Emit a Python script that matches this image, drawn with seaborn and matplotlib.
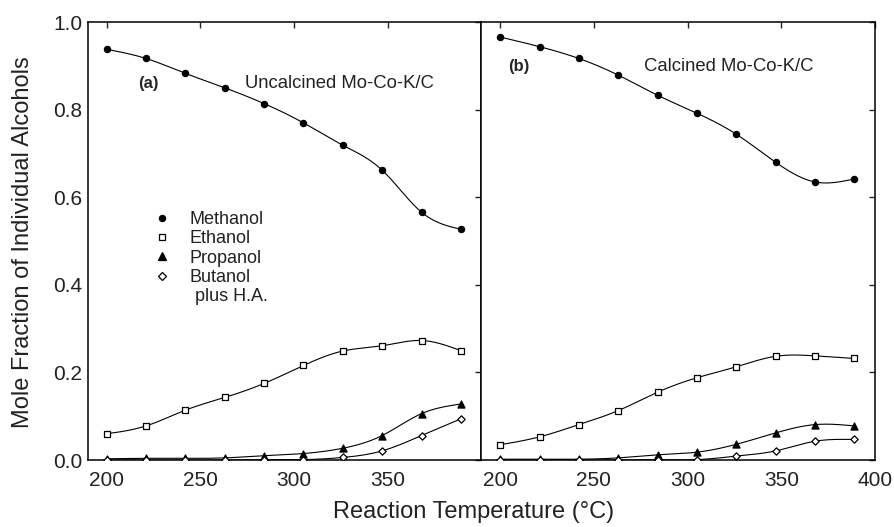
import numpy as np
import pandas as pd
import matplotlib
matplotlib.use("Agg")
import matplotlib.pyplot as plt
from matplotlib.lines import Line2D
import seaborn as sns

sns.set_style("white")
plt.rcParams['font.family'] = ['Liberation Sans', 'DejaVu Sans']

# ---------------- data ----------------
temps = [200, 221, 242, 263, 284, 305, 326, 347, 368, 389]

a_methanol = [0.938, 0.917, 0.883, 0.850, 0.814, 0.770, 0.719, 0.662, 0.566, 0.527]
a_ethanol = [0.060, 0.078, 0.114, 0.143, 0.175, 0.216, 0.249, 0.261, 0.273, 0.250]
a_propanol = [0.003, 0.004, 0.004, 0.005, 0.010, 0.015, 0.027, 0.056, 0.106, 0.128]
a_butanol = [0.000, 0.000, 0.000, 0.000, 0.001, 0.001, 0.006, 0.021, 0.056, 0.094]

b_methanol = [0.966, 0.944, 0.917, 0.879, 0.833, 0.792, 0.744, 0.680, 0.635, 0.642]
b_ethanol = [0.035, 0.053, 0.081, 0.113, 0.155, 0.188, 0.213, 0.237, 0.238, 0.232]
b_propanol = [0.002, 0.002, 0.002, 0.005, 0.012, 0.018, 0.036, 0.062, 0.081, 0.078]
b_butanol = [0.000, 0.000, 0.000, 0.000, 0.001, 0.001, 0.009, 0.021, 0.043, 0.047]

series_names = ["Methanol", "Ethanol", "Propanol", "Butanol"]
panel_labels = ["(a)", "(b)"]
panel_titles = ["Uncalcined Mo-Co-K/C", "Calcined Mo-Co-K/C"]
x_ticks_a = [200, 250, 300, 350]
x_ticks_b = [200, 250, 300, 350, 400]
y_ticks = [0.0, 0.2, 0.4, 0.6, 0.8, 1.0]

# marker styles: (marker, facecolor, size)
styles = {
    "Methanol": ("o", "black", 20),
    "Ethanol": ("s", "white", 18),
    "Propanol": ("^", "black", 26),
    "Butanol": ("D", "white", 14),
}


def natural_spline(x, y, n=300):
    x = np.asarray(x, float)
    y = np.asarray(y, float)
    k = len(x)
    h = np.diff(x)
    A = np.zeros((k, k))
    r = np.zeros(k)
    A[0, 0] = A[-1, -1] = 1.0
    for i in range(1, k - 1):
        A[i, i - 1] = h[i - 1]
        A[i, i] = 2 * (h[i - 1] + h[i])
        A[i, i + 1] = h[i]
        r[i] = 6 * ((y[i + 1] - y[i]) / h[i] - (y[i] - y[i - 1]) / h[i - 1])
    M = np.linalg.solve(A, r)
    xs = np.linspace(x[0], x[-1], n)
    idx = np.clip(np.searchsorted(x, xs) - 1, 0, k - 2)
    x0, x1 = x[idx], x[idx + 1]
    hh = x1 - x0
    t0 = x1 - xs
    t1 = xs - x0
    ys = (M[idx] * t0 ** 3 / (6 * hh) + M[idx + 1] * t1 ** 3 / (6 * hh)
          + (y[idx] / hh - M[idx] * hh / 6) * t0
          + (y[idx + 1] / hh - M[idx + 1] * hh / 6) * t1)
    return xs, ys


fig, axes = plt.subplots(1, 2, figsize=(8.94, 5.27), dpi=100, sharey=True)
fig.subplots_adjust(left=0.0984, right=0.9787, top=0.958, bottom=0.127, wspace=0)

panels = [
    [a_methanol, a_ethanol, a_propanol, a_butanol],
    [b_methanol, b_ethanol, b_propanol, b_butanol],
]

for ax, data in zip(axes, panels):
    for name, vals in zip(series_names, data):
        xs, ys = natural_spline(temps, vals)
        sns.lineplot(x=xs, y=ys, ax=ax, color="black", lw=0.8, sort=False,
                     estimator=None, legend=False)
    for name, vals in zip(series_names, data):
        m, fc, s = styles[name]
        sns.scatterplot(x=temps, y=vals, ax=ax, marker=m, s=s, facecolor=fc,
                        edgecolor="black", linewidth=0.9, zorder=5, legend=False)
    ax.set_xlim(190, 400)
    ax.set_ylim(0, 1.0)
    ax.set_yticks(y_ticks)
    ax.tick_params(direction="in", top=True, right=True, length=4, width=1,
                   labelsize=15, pad=8, labelcolor="#222222")
    for sp in ax.spines.values():
        sp.set_linewidth(1.1)
        sp.set_color("black")
    ax.set_xlabel("")
    ax.set_ylabel("")

axes[0].set_xticks(x_ticks_a)
axes[1].set_xticks(x_ticks_b)
axes[0].set_yticklabels([f"{v:.1f}" for v in y_ticks])
axes[0].tick_params(axis="y", pad=4)
axes[1].tick_params(axis="y", labelleft=False)

axes[0].text(222, 0.86, panel_labels[0], fontsize=12, fontweight="bold",
             ha="center", va="center")
axes[0].text(274, 0.86, panel_titles[0], fontsize=13.3, ha="left", va="center",
             color="#222222")
axes[1].text(210, 0.898, panel_labels[1], fontsize=12, fontweight="bold",
             ha="center", va="center")
axes[1].text(277, 0.898, panel_titles[1], fontsize=13.3, ha="left", va="center",
             color="#222222")

handles = []
for name in series_names:
    m, fc, s = styles[name]
    handles.append(Line2D([], [], linestyle="none", marker=m, markersize=np.sqrt(s),
                          markerfacecolor=fc, markeredgecolor="black", markeredgewidth=0.9))
handles.append(Line2D([], [], linestyle="none"))
labels = series_names + [" plus H.A."]
leg = axes[0].legend(handles, labels, loc="upper left", bbox_to_anchor=(0.165, 0.569),
                     frameon=False, fontsize=13, handlelength=1.0, handletextpad=1.05,
                     labelspacing=0.13, borderpad=0, borderaxespad=0)
for t in leg.get_texts():
    t.set_color("#222222")

fig.supxlabel("Reaction Temperature (°C)", fontsize=17, y=0.008, x=0.530,
              color="#222222")
fig.supylabel("Mole Fraction of Individual Alcohols", fontsize=17, x=0.013, y=0.541,
              color="#222222")

fig.savefig("out.png", dpi=100, facecolor="white")
